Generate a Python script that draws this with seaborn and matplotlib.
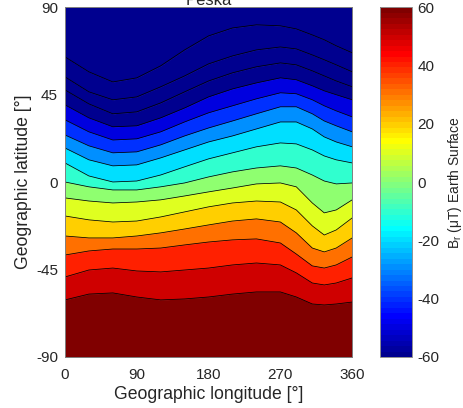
import numpy as np
import pandas as pd
import matplotlib
matplotlib.use("Agg")
import matplotlib.pyplot as plt
import seaborn as sns
from matplotlib.colors import Normalize, ListedColormap
from matplotlib.cm import ScalarMappable

# ---- data (latitude of each isoline at given longitudes) ----
lon = [0, 30, 60, 90, 120, 150, 180, 210, 240, 270, 290, 310, 325, 340, 360]
levels = [-80, -70, -60, -50, -40, -30, -20, -10, 0, 10, 20, 30, 40, 50, 60]

lat_m80 = [64.5, 56.8, 51.6, 53.7, 59.9, 68.1, 75.3, 79.4, 81.0, 80.5, 78.9, 75.8, 73.3, 70.2, 66.6]
lat_m70 = [54.2, 46.5, 42.4, 43.9, 49.1, 54.7, 60.9, 65.0, 68.1, 69.6, 68.6, 65.5, 63.0, 60.4, 56.8]
lat_m60 = [47.5, 40.3, 35.2, 36.2, 40.8, 46.5, 52.1, 56.3, 59.4, 61.4, 60.4, 57.3, 54.7, 52.1, 49.1]
lat_m50 = [39.8, 33.1, 28.5, 29.0, 33.1, 38.2, 43.9, 48.0, 51.1, 53.7, 52.7, 49.6, 47.0, 45.0, 42.4]
lat_m40 = [32.1, 25.9, 21.7, 22.3, 25.9, 31.0, 35.7, 39.3, 42.9, 46.0, 45.5, 42.4, 39.3, 36.7, 33.6]
lat_m30 = [24.3, 18.7, 15.1, 15.6, 19.2, 23.8, 27.9, 31.5, 35.2, 38.8, 38.8, 35.2, 31.5, 29.0, 25.9]
lat_m20 = [17.6, 11.5, 8.4, 8.9, 12.5, 16.6, 20.7, 23.8, 27.4, 31.0, 31.0, 27.4, 23.3, 20.7, 18.2]
lat_m10 = [9.9, 3.2, 0.1, 0.6, 3.7, 7.9, 12.0, 15.1, 18.2, 20.2, 19.7, 16.6, 13.5, 11.5, 9.9]
lat_p00 = [0.1, -2.4, -4.0, -4.0, -2.4, -0.4, 2.7, 5.3, 7.3, 8.4, 7.3, 3.7, 0.6, -0.9, -0.4]
lat_p10 = [-8.1, -9.7, -10.7, -10.2, -9.1, -7.1, -5.0, -3.0, -0.9, -0.4, -2.4, -10.7, -15.8, -14.3, -9.1]
lat_p20 = [-17.4, -19.4, -20.5, -20.0, -17.9, -15.3, -12.7, -10.7, -9.7, -10.2, -14.3, -22.5, -27.2, -24.6, -18.4]
lat_p30 = [-27.7, -28.7, -28.7, -27.7, -26.1, -24.1, -22.0, -20.0, -18.9, -20.5, -26.1, -33.9, -35.9, -33.9, -28.7]
lat_p40 = [-37.5, -35.4, -34.4, -34.4, -33.9, -32.3, -30.8, -29.7, -29.2, -31.3, -37.0, -43.1, -44.2, -42.6, -38.5]
lat_p50 = [-48.8, -45.2, -44.2, -45.7, -46.2, -45.2, -44.2, -42.6, -41.6, -42.6, -46.7, -51.9, -52.9, -51.9, -49.3]
lat_p60 = [-60.6, -57.6, -57.0, -59.1, -60.6, -60.1, -59.1, -57.6, -56.5, -56.5, -59.1, -62.7, -63.2, -62.7, -61.7]

iso_lat = [lat_m80, lat_m70, lat_m60, lat_m50, lat_m40, lat_m30, lat_m20, lat_m10,
           lat_p00, lat_p10, lat_p20, lat_p30, lat_p40, lat_p50, lat_p60]

cbar_ticks = [-60, -40, -20, 0, 20, 40, 60]
x_ticks = [0, 90, 180, 270, 360]
y_ticks = [-90, -45, 0, 45, 90]


# ---- MATLAB-style jet(64) colormap ----
def matlab_jet(m=64):
    n = int(np.ceil(m / 4))
    u = np.concatenate([np.arange(1, n + 1) / n, np.ones(n - 1), np.arange(n, 0, -1) / n])
    g = int(np.ceil(n / 2)) - (1 if m % 4 == 1 else 0) + np.arange(1, len(u) + 1)
    r = g + n
    b = g - n
    J = np.zeros((m, 3))
    J[r[r <= m] - 1, 0] = u[r <= m]
    J[g[g <= m] - 1, 1] = u[g <= m]
    J[b[b >= 1] - 1, 2] = u[b >= 1]
    return ListedColormap(J)


# ---- style ----
sns.set_style("white")
plt.rcParams['font.family'] = ['Liberation Sans', 'DejaVu Sans']
plt.rcParams['axes.unicode_minus'] = False

fig = plt.figure(figsize=(4.64, 4.08), dpi=100)
ax = fig.add_axes([0.140, 0.125, 0.619, 0.857])
cax = fig.add_axes([0.819, 0.125, 0.069, 0.857])

cmap = matlab_jet(64)
norm = Normalize(-60, 60)

# filled bands between successive isolines (coloured by the lower level)
n = len(lon)
bounds = [[90.0] * n] + iso_lat + [[-90.0] * n]
band_vals = [levels[0] - 10] + levels
for upper, lower, v in zip(bounds[:-1], bounds[1:], band_vals):
    c = cmap(norm(v))
    ax.fill_between(lon, lower, upper, color=c, lw=0.4, edgecolor=c, zorder=1)

# isolines
rows = []
for lev, lats in zip(levels, iso_lat):
    for lo, la in zip(lon, lats):
        rows.append({"lon": lo, "lat": la, "level": lev})
df = pd.DataFrame(rows)
sns.lineplot(data=df, x="lon", y="lat", units="level", estimator=None,
             sort=False, color="black", lw=0.55, ax=ax, zorder=3)

ax.set_xlim(0, 360)
ax.set_ylim(-90, 90)
ax.set_xticks(x_ticks)
ax.set_yticks(y_ticks)
ax.set_xlabel("Geographic longitude [°]", fontsize=12.7, labelpad=3, color="#262626")
ax.set_ylabel("Geographic latitude [°]", fontsize=12.7, labelpad=3, color="#262626")
ax.tick_params(direction="in", length=3, width=0.6, top=True, right=True,
               labelsize=11, colors="#909090", labelcolor="#262626")
ax.tick_params(axis="x", pad=8)
ax.tick_params(axis="y", pad=5)
for s in ax.spines.values():
    s.set_color("#808080")
    s.set_linewidth(0.7)
    s.set_zorder(5)

# colorbar
cb = fig.colorbar(ScalarMappable(norm=norm, cmap=cmap), cax=cax, ticks=cbar_ticks)
cb.outline.set_edgecolor("#909090")
cb.outline.set_linewidth(0.7)
cax.tick_params(direction="in", length=3, width=0.6, labelsize=11,
                colors="#909090", labelcolor="#262626", pad=4)
cb.set_label("B$_\\mathregular{r}$ (μT) Earth Surface", fontsize=10, color="#262626")
cax.yaxis.set_label_coords(2.05, 0.5)

# title (cut off by the top edge, as in the reference)
fig.text(0.449, 0.988, "Peška", ha="center", va="baseline", fontsize=12, color="#262626")

fig.savefig("out.png", dpi=100)
